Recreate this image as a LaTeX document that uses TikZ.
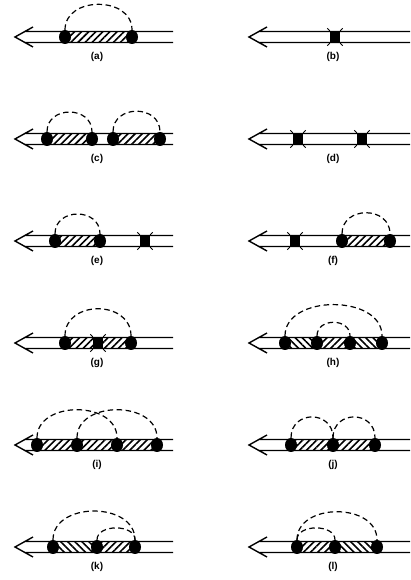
\documentclass[tikz,border=0pt]{standalone}
\usepackage{fontspec}
\setmainfont{Liberation Sans}
\usetikzlibrary{shapes.geometric,patterns.meta}
\tikzset{
  dot/.style={ellipse,fill=black,minimum width=12pt,minimum height=14pt,inner sep=0pt},
  vtx/.style={rectangle,fill=black,minimum width=10pt,minimum height=12pt,inner sep=0pt,
    append after command={(\tikzlastnode.north west) edge[line width=.9pt] ++(-2.5pt,2.5pt)
      (\tikzlastnode.north east) edge[line width=.9pt] ++(2.5pt,2.5pt)
      (\tikzlastnode.south west) edge[line width=.9pt] ++(-2.5pt,-2.5pt)
      (\tikzlastnode.south east) edge[line width=.9pt] ++(2.5pt,-2.5pt)}},
  shaft/.style={line width=1.4pt,line join=miter},
  bond/.style={dash pattern=on 5.5pt off 3.5pt,line width=1.2pt},
  hatchne/.style={pattern={Lines[angle=45,distance=5pt,line width=1.6pt]}},
  hatchnw/.style={pattern={Lines[angle=-45,distance=5pt,line width=1.6pt]}},
  lab/.style={font=\fontsize{10}{12}\selectfont\bfseries}
}
\begin{document}
\begin{tikzpicture}[x=1pt,y=1pt]
   \useasboundingbox (0,0) rectangle (410,580);
   \foreach \y in {543,441,339,237,135,33}
     \foreach \x/\e in {15/173,249/410}
       \draw[shaft] (\x+18,\y+10) -- (\x,\y) -- (\x+18,\y-10)
         (\x+9,\y+5.5) -- (\e,\y+5.5) (\x+9,\y-5.5) -- (\e,\y-5.5);
   % (a)
   \path[hatchne] (65,537.5) rectangle (132,548.5);
   \node[dot] (a1) at (65,543) {};
   \node[dot] (a2) at (132,543) {};
   \draw[bond] (a1.north) to[out=90,in=90,looseness=1.3] (a2.north);
   \node[lab] (la) at (97,523) {(a)};
   % (b)
   \node[vtx] (b1) at (335,543) {};
   \node[lab] (lb) at (333,523) {(b)};
   % (c)
   \path[hatchne] (47,435.5) rectangle (92,446.5);
   \path[hatchne] (113,435.5) rectangle (160,446.5);
   \node[dot] (c1) at (47,441) {};
   \node[dot] (c2) at (92,441) {};
   \node[dot] (c3) at (113,441) {};
   \node[dot] (c4) at (160,441) {};
   \draw[bond] (c1.north) to[out=90,in=90,looseness=1.5] (c2.north);
   \draw[bond] (c3.north) to[out=90,in=90,looseness=1.5] (c4.north);
   \node[lab] (lc) at (97,421) {(c)};
   % (d)
   \node[vtx] (d1) at (298,441) {};
   \node[vtx] (d2) at (362,441) {};
   \node[lab] (ld) at (333,421) {(d)};
   % (e)
   \path[hatchne] (55,333.5) rectangle (100,344.5);
   \node[dot] (e1) at (55,339) {};
   \node[dot] (e2) at (100,339) {};
   \node[vtx] (e3) at (145,339) {};
   \draw[bond] (e1.north) to[out=90,in=90,looseness=1.5] (e2.north);
   \node[lab] (le) at (97,319) {(e)};
   % (f)
   \path[hatchne] (342,333.5) rectangle (390,344.5);
   \node[vtx] (f1) at (295,339) {};
   \node[dot] (f2) at (342,339) {};
   \node[dot] (f3) at (390,339) {};
   \draw[bond] (f2.north) to[out=90,in=90,looseness=1.5] (f3.north);
   \node[lab] (lf) at (333,319) {(f)};
   % (g)
   \path[hatchne] (65,231.5) rectangle (131,242.5);
   \node[dot] (g1) at (65,237) {};
   \node[vtx] (g2) at (98,237) {};
   \node[dot] (g3) at (131,237) {};
   \draw[bond] (g1.north) to[out=90,in=90,looseness=1.4] (g3.north);
   \node[lab] (lg) at (97,217) {(g)};
   % (h)
   \path[hatchnw] (285,231.5) rectangle (317,242.5);
   \path[hatchne] (317,231.5) rectangle (350,242.5);
   \path[hatchnw] (350,231.5) rectangle (382,242.5);
   \node[dot] (h1) at (285,237) {};
   \node[dot] (h2) at (317,237) {};
   \node[dot] (h3) at (350,237) {};
   \node[dot] (h4) at (382,237) {};
   \draw[bond] (h1.north) to[out=90,in=90,looseness=1.1] (h4.north);
   \draw[bond] (h2.north) to[out=90,in=90,looseness=1.4] (h3.north);
   \node[lab] (lh) at (333,217) {(h)};
   % (i)
   \path[hatchne] (37,129.5) rectangle (157,140.5);
   \node[dot] (i1) at (37,135) {};
   \node[dot] (i2) at (77,135) {};
   \node[dot] (i3) at (117,135) {};
   \node[dot] (i4) at (157,135) {};
   \draw[bond] (i1.north) to[out=90,in=90,looseness=1.2] (i3.north);
   \draw[bond] (i2.north) to[out=90,in=90,looseness=1.2] (i4.north);
   \node[lab] (li) at (97,115) {(i)};
   % (j)
   \path[hatchne] (291,129.5) rectangle (375,140.5);
   \node[dot] (j1) at (291,135) {};
   \node[dot] (j2) at (333,135) {};
   \node[dot] (j3) at (375,135) {};
   \draw[bond] (j1.north) to[out=90,in=90,looseness=1.7] (j2.north);
   \draw[bond] (j2.north) to[out=90,in=90,looseness=1.7] (j3.north);
   \node[lab] (lj) at (333,115) {(j)};
   % (k)
   \path[hatchnw] (53,27.5) rectangle (97,38.5);
   \path[hatchne] (97,27.5) rectangle (135,38.5);
   \node[dot] (k1) at (53,33) {};
   \node[dot] (k2) at (97,33) {};
   \node[dot] (k3) at (135,33) {};
   \draw[bond] (k1.north) to[out=90,in=90,looseness=1.2] (k3.north);
   \draw[bond] (k2.north) to[out=90,in=90,looseness=1.07] (k3.north);
   \node[lab] (lk) at (97,13) {(k)};
   % (l)
   \path[hatchne] (297,27.5) rectangle (335,38.5);
   \path[hatchnw] (335,27.5) rectangle (377,38.5);
   \node[dot] (l1) at (297,33) {};
   \node[dot] (l2) at (335,33) {};
   \node[dot] (l3) at (377,33) {};
   \draw[bond] (l1.north) to[out=90,in=90,looseness=1.2] (l3.north);
   \draw[bond] (l1.north) to[out=90,in=90,looseness=1.07] (l2.north);
   \node[lab] (ll) at (333,13) {(l)};
\end{tikzpicture}
\end{document}
